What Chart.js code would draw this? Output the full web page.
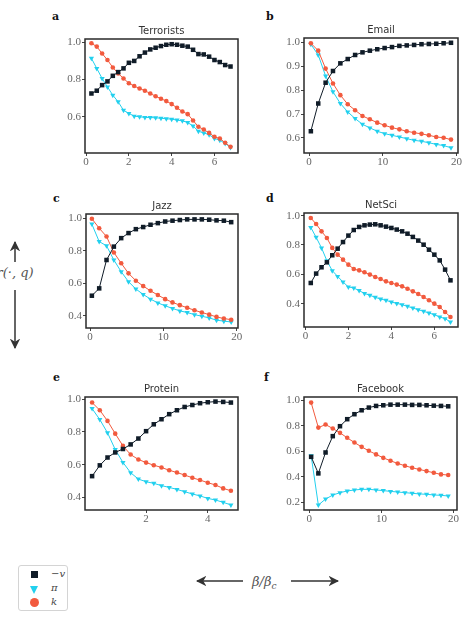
<!DOCTYPE html>
<html>
<head>
<meta charset="utf-8">
<script src="https://cdn.jsdelivr.net/npm/chart.js@4.4.0/dist/chart.umd.min.js"></script>
<style>
  body { margin: 0; background: #fff; width: 465px; height: 623px; position: relative; overflow: hidden; }
  .letter { position: absolute; font: bold 11px "DejaVu Serif", serif; color: #111; }
  .legend { position: absolute; left: 18px; top: 565px; width: 50px; height: 46px; border: 1px solid #d4d4d4; border-radius: 3px; box-sizing: border-box; }
  .lrow { position: absolute; left: 0; width: 50px; height: 14px; }
  .lrow span { position: absolute; left: 32px; top: 0; font: italic 10px "DejaVu Serif", serif; color: #444; }
  .sq { position: absolute; left: 12px; top: 3px; width: 7px; height: 7px; background: #101c28; }
  .tri { position: absolute; left: 11px; top: 4px; width: 0; height: 0; border-left: 4.5px solid transparent; border-right: 4.5px solid transparent; border-top: 8px solid #22d0ee; }
  .dot { position: absolute; left: 11px; top: 2px; width: 9px; height: 9px; border-radius: 50%; background: #f25a3e; }
</style>
</head>
<body>

<div class="letter" style="left:52px;top:10px;">a</div>
<div class="letter" style="left:266px;top:10px;">b</div>
<div class="letter" style="left:53px;top:192px;">c</div>
<div class="letter" style="left:266px;top:192px;">d</div>
<div class="letter" style="left:53px;top:371px;">e</div>
<div class="letter" style="left:264px;top:371px;">f</div>

<svg width="465" height="623" style="position:absolute;left:0;top:0;pointer-events:none;">
  <defs>
    <marker id="head" viewBox="0 0 10 10" refX="9" refY="5" markerWidth="7" markerHeight="7" orient="auto-start-reverse">
      <path d="M0,0 L10,5 L0,10 L3,5 z" fill="#333"/>
    </marker>
  </defs>
  <line x1="15" y1="262" x2="15" y2="242" stroke="#333" stroke-width="1.5" marker-end="url(#head)"/>
  <line x1="15" y1="290" x2="15" y2="348" stroke="#333" stroke-width="1.5" marker-end="url(#head)"/>
  <text x="15" y="277" text-anchor="middle" font-family="DejaVu Serif" font-style="italic" font-size="13" fill="#555">r(·, q)</text>
  <line x1="243" y1="581" x2="197" y2="581" stroke="#333" stroke-width="1.5" marker-end="url(#head)"/>
  <line x1="291" y1="581" x2="338" y2="581" stroke="#333" stroke-width="1.5" marker-end="url(#head)"/>
  <text x="252" y="586" font-family="DejaVu Serif" font-style="italic" font-size="13" fill="#555">β/β<tspan font-size="9" dy="3">c</tspan></text>
</svg>

<div class="legend">
  <div class="lrow" style="top:2px;"><div class="sq"></div><span>−v</span></div>
  <div class="lrow" style="top:16px;"><div class="tri"></div><span>π</span></div>
  <div class="lrow" style="top:30px;"><div class="dot"></div><span>k</span></div>
</div>

<script>
//* DATA //
let xShort = [0.25, 0.5, 0.75, 1, 1.25, 1.5, 1.75, 2, 2.25, 2.5, 2.75, 3, 3.25, 3.5, 3.75, 4, 4.25, 4.5, 4.75, 5, 5.25, 5.5, 5.75, 6, 6.25, 6.5, 6.75];
let xLong = [0.25, 1.25, 2.25, 3.25, 4.25, 5.25, 6.25, 7.25, 8.25, 9.25, 10.25, 11.25, 12.25, 13.25, 14.25, 15.25, 16.25, 17.25, 18.25, 19.25];
let xProtein = [0.25, 0.5, 0.75, 1, 1.25, 1.5, 1.75, 2, 2.25, 2.5, 2.75, 3, 3.25, 3.5, 3.75, 4, 4.25, 4.5, 4.75];

// Terrorists
let terrV = [0.725, 0.74, 0.77, 0.79, 0.82, 0.84, 0.86, 0.89, 0.90, 0.925, 0.945, 0.962, 0.971, 0.98, 0.987, 0.99, 0.987, 0.982, 0.977, 0.96, 0.937, 0.935, 0.923, 0.905, 0.894, 0.878, 0.87];
let terrPi = [0.914, 0.86, 0.806, 0.76, 0.716, 0.68, 0.635, 0.618, 0.603, 0.6, 0.596, 0.596, 0.594, 0.592, 0.589, 0.587, 0.582, 0.578, 0.569, 0.55, 0.522, 0.513, 0.503, 0.483, 0.474, 0.456, 0.435];
let terrK = [0.995, 0.977, 0.94, 0.905, 0.865, 0.833, 0.806, 0.78, 0.765, 0.752, 0.74, 0.725, 0.71, 0.697, 0.684, 0.668, 0.648, 0.628, 0.614, 0.58, 0.546, 0.531, 0.513, 0.492, 0.483, 0.46, 0.438];

// Email
let emailV = [0.628, 0.744, 0.831, 0.88, 0.912, 0.93, 0.947, 0.958, 0.965, 0.971, 0.976, 0.98, 0.985, 0.987, 0.989, 0.992, 0.993, 0.994, 0.996, 0.998];
let emailPi = [0.992, 0.947, 0.859, 0.793, 0.744, 0.709, 0.681, 0.657, 0.642, 0.628, 0.618, 0.611, 0.604, 0.597, 0.59, 0.586, 0.58, 0.573, 0.568, 0.559];
let emailK = [0.996, 0.965, 0.89, 0.828, 0.779, 0.741, 0.716, 0.692, 0.678, 0.664, 0.653, 0.643, 0.636, 0.628, 0.622, 0.617, 0.611, 0.604, 0.601, 0.593];

// Jazz
let jazzV = [0.524, 0.569, 0.743, 0.825, 0.877, 0.908, 0.932, 0.945, 0.959, 0.969, 0.979, 0.984, 0.988, 0.992, 0.992, 0.992, 0.99, 0.986, 0.984, 0.975];
let jazzPi = [0.963, 0.856, 0.83, 0.743, 0.671, 0.61, 0.565, 0.532, 0.503, 0.48, 0.462, 0.446, 0.431, 0.421, 0.408, 0.398, 0.388, 0.374, 0.368, 0.363];
let jazzK = [0.996, 0.938, 0.887, 0.789, 0.723, 0.661, 0.616, 0.583, 0.554, 0.528, 0.503, 0.483, 0.466, 0.45, 0.435, 0.421, 0.408, 0.394, 0.384, 0.377];

// NetSci
let netV = [0.541, 0.605, 0.648, 0.682, 0.73, 0.775, 0.82, 0.864, 0.902, 0.923, 0.934, 0.939, 0.941, 0.934, 0.925, 0.916, 0.905, 0.893, 0.877, 0.855, 0.83, 0.802, 0.768, 0.734, 0.695, 0.632, 0.559];
let netPi = [0.92, 0.852, 0.78, 0.693, 0.625, 0.586, 0.548, 0.514, 0.507, 0.489, 0.47, 0.457, 0.443, 0.432, 0.423, 0.411, 0.402, 0.393, 0.382, 0.37, 0.359, 0.348, 0.336, 0.325, 0.309, 0.298, 0.275];
let netK = [0.984, 0.943, 0.893, 0.848, 0.78, 0.734, 0.70, 0.666, 0.636, 0.627, 0.614, 0.598, 0.582, 0.568, 0.552, 0.541, 0.53, 0.518, 0.502, 0.484, 0.466, 0.445, 0.423, 0.40, 0.377, 0.343, 0.309];

// Protein
let protV = [0.53, 0.596, 0.644, 0.675, 0.696, 0.724, 0.76, 0.805, 0.847, 0.878, 0.909, 0.933, 0.953, 0.965, 0.976, 0.982, 0.986, 0.984, 0.98];
let protPi = [0.943, 0.876, 0.795, 0.693, 0.614, 0.551, 0.512, 0.496, 0.486, 0.472, 0.461, 0.449, 0.435, 0.421, 0.409, 0.394, 0.384, 0.37, 0.354];
let protK = [0.98, 0.933, 0.868, 0.79, 0.715, 0.662, 0.632, 0.613, 0.597, 0.583, 0.566, 0.552, 0.537, 0.52, 0.506, 0.49, 0.476, 0.455, 0.441];

// Facebook
let fbV = [0.557, 0.427, 0.591, 0.719, 0.797, 0.852, 0.891, 0.922, 0.943, 0.956, 0.961, 0.966, 0.966, 0.966, 0.964, 0.964, 0.961, 0.958, 0.956, 0.953];
let fbPi = [0.565, 0.179, 0.226, 0.257, 0.276, 0.289, 0.297, 0.302, 0.302, 0.297, 0.292, 0.286, 0.281, 0.276, 0.271, 0.266, 0.263, 0.258, 0.255, 0.25];
let fbK = [0.982, 0.786, 0.81, 0.779, 0.745, 0.706, 0.669, 0.635, 0.604, 0.576, 0.549, 0.526, 0.505, 0.487, 0.471, 0.458, 0.445, 0.432, 0.419, 0.414];

// tick labels
let ticksX7 = [0, 2, 4, 6];
let ticksX20 = [0, 10, 20];
let ticksXProt = [2, 4];
let ticksYTerr = [0.6, 0.8, 1.0];
let ticksYEmail = [0.6, 0.7, 0.8, 0.9, 1.0];
let ticksY4 = [0.4, 0.6, 0.8, 1.0];
let ticksYFb = [0.2, 0.4, 0.6, 0.8, 1.0];

//* STYLE //
let colV = '#101c28';
let colPi = '#22d0ee';
let colK = '#f25a3e';

// tick labels use a serif face, like the original figure
Chart.defaults.font.family = "'Liberation Serif', 'DejaVu Serif', serif";
Chart.defaults.font.size = 11;
Chart.defaults.color = '#666';

let framePlugin = {
  id: 'frame',
  afterDatasetsDraw(chart) {
    let a = chart.chartArea;
    let ctx = chart.ctx;
    ctx.save();
    ctx.strokeStyle = '#2a2a2a';
    ctx.lineWidth = 1.5;
    ctx.strokeRect(a.left, a.top, a.right - a.left, a.bottom - a.top);
    ctx.restore();
  }
};

function pts(xs, ys) {
  let out = [];
  for (let i = 0; i < xs.length; i++) {
    out.push({ x: xs[i], y: ys[i] });
  }
  return out;
}

function renderPanel(p) {
  let padL = 36, padR = 10, padT = 16, padB = 16;
  let w = p.frame[2] - p.frame[0] + padL + padR;
  let h = p.frame[3] - p.frame[1] + padT + padB;
  let canvas = document.createElement('canvas');
  canvas.width = w;
  canvas.height = h;
  canvas.style.position = 'absolute';
  canvas.style.left = (p.frame[0] - padL) + 'px';
  canvas.style.top = (p.frame[1] - padT) + 'px';
  canvas.style.width = w + 'px';
  canvas.style.height = h + 'px';
  document.body.appendChild(canvas);

  let chartObj = {
    type: 'line',
    data: {
      datasets: [
        { label: '−v', data: pts(p.xs, p.v), borderColor: colV, backgroundColor: colV, borderWidth: 1,
          pointStyle: 'rect', pointRadius: 3.2, pointBorderWidth: 0 },
        { label: 'k', data: pts(p.xs, p.k), borderColor: colK, backgroundColor: colK, borderWidth: 1,
          pointStyle: 'circle', pointRadius: 2.3, pointBorderWidth: 0 },
        { label: 'π', data: pts(p.xs, p.pi), borderColor: colPi, backgroundColor: colPi, borderWidth: 1,
          pointStyle: 'triangle', rotation: 180, pointRadius: 3, pointBorderWidth: 0 }
      ]
    },
    options: {
      responsive: false,
      animation: false,
      devicePixelRatio: 1,
      layout: { padding: { left: 0, right: padR, top: 0, bottom: 0 } },
      plugins: {
        legend: { display: false },
        tooltip: { enabled: false },
        title: {
          display: true, text: p.title, fullSize: false, color: '#333',
          font: { family: "'DejaVu Sans', sans-serif", size: 10, weight: 'normal' },
          padding: { top: 2, bottom: 2 }
        }
      },
      scales: {
        x: {
          type: 'linear', min: p.xMin, max: p.xMax,
          border: { display: false },
          grid: { drawOnChartArea: false, drawTicks: true, tickLength: 3, color: '#444' },
          ticks: { color: '#666', padding: 0, autoSkip: false, maxRotation: 0 },
          afterBuildTicks: (s) => { s.ticks = p.xTicks.map(v => ({ value: v })); },
          afterFit: (s) => { s.height = padB; }
        },
        y: {
          type: 'linear', min: p.yMin, max: p.yMax,
          border: { display: false },
          grid: { drawOnChartArea: false, drawTicks: true, tickLength: 3, color: '#444' },
          ticks: { color: '#666', padding: 1, callback: (v) => v.toFixed(1) },
          afterBuildTicks: (s) => { s.ticks = p.yTicks.map(v => ({ value: v })); },
          afterFit: (s) => { s.width = padL; }
        }
      }
    },
    plugins: [framePlugin]
  };
  new Chart(canvas, chartObj);
}

//* EXECUTABLE CODE //
renderPanel({ title: 'Terrorists', frame: [85, 39, 238, 153], xs: xShort, v: terrV, pi: terrPi, k: terrK,
  xMin: -0.05, xMax: 7.1, yMin: 0.405, yMax: 1.018, xTicks: ticksX7, yTicks: ticksYTerr });
renderPanel({ title: 'Email', frame: [304, 38, 458, 153], xs: xLong, v: emailV, pi: emailPi, k: emailK,
  xMin: -0.68, xMax: 20.2, yMin: 0.537, yMax: 1.018, xTicks: ticksX20, yTicks: ticksYEmail });
renderPanel({ title: 'Jazz', frame: [86, 214, 238, 328], xs: xLong, v: jazzV, pi: jazzPi, k: jazzK,
  xMin: -0.55, xMax: 20.18, yMin: 0.326, yMax: 1.025, xTicks: ticksX20, yTicks: ticksY4 });
renderPanel({ title: 'NetSci', frame: [304, 213, 458, 327], xs: xShort, v: netV, pi: netPi, k: netK,
  xMin: -0.065, xMax: 7.1, yMin: 0.241, yMax: 1.018, xTicks: ticksX7, yTicks: ticksY4 });
renderPanel({ title: 'Protein', frame: [85, 397, 238, 510], xs: xProtein, v: protV, pi: protPi, k: protK,
  xMin: 0.02, xMax: 4.98, yMin: 0.323, yMax: 1.014, xTicks: ticksXProt, yTicks: ticksY4 });
renderPanel({ title: 'Facebook', frame: [304, 397, 457, 510], xs: xLong, v: fbV, pi: fbPi, k: fbK,
  xMin: -0.74, xMax: 20.47, yMin: 0.14, yMax: 1.026, xTicks: ticksX20, yTicks: ticksYFb });
</script>
</body>
</html>
